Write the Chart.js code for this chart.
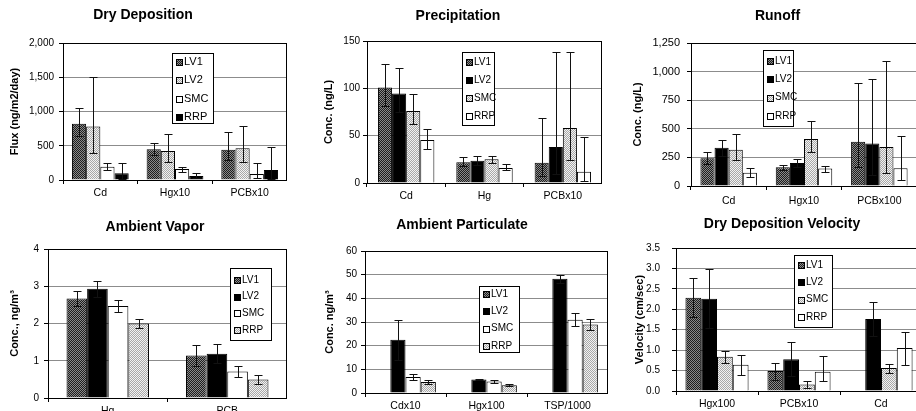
<!DOCTYPE html>
<html><head><meta charset="utf-8">
<script src="https://cdn.jsdelivr.net/npm/chart.js@4.4.0/dist/chart.umd.min.js"></script>
<style>
html,body{margin:0;padding:0;background:#fff;}
#wrap{position:relative;width:916px;height:411px;overflow:hidden;background:#fff;}
canvas{position:absolute;}
</style></head><body><div id="wrap"></div>
<script>
// ---------------- DATA ----------------
const seriesNames = ['LV1', 'LV2', 'SMC', 'RRP'];

// Dry Deposition (ng/m2/day)
const ddCats = ['Cd', 'Hgx10', 'PCBx10'];
const ddLV1 = [820, 450, 440], ddLV1Lo = [645, 365, 295], ddLV1Hi = [1050, 540, 705];
const ddLV2 = [780, 425, 465], ddLV2Lo = [400, 268, 268], ddLV2Hi = [1500, 668, 790];
const ddSMC = [195, 160, 88],  ddSMCLo = [140, 122, 24],  ddSMCHi = [245, 195, 255];
const ddRRP = [98, 60, 146],   ddRRPLo = [20, 24, 20],    ddRRPHi = [255, 107, 488];

// Precipitation (ng/L)
const prCats = ['Cd', 'Hg', 'PCBx10'];
const prLV1 = [101, 22, 21.5], prLV1Lo = [81, 17.5, 7.7], prLV1Hi = [126, 27, 69];
const prLV2 = [94.6, 23.5, 38], prLV2Lo = [75, 18.6, 10], prLV2Hi = [121, 29, 138];
const prSMC = [76, 25, 58],    prSMCLo = [62, 21, 24.5],  prSMCHi = [93.6, 29, 138.5];
const prRRP = [45.5, 15.8, 12], prRRPLo = [36, 13.3, 2.5], prRRPHi = [56.8, 20, 48.7];

// Runoff (ng/L)
const roCats = ['Cd', 'Hgx10', 'PCBx100'];
const roLV1 = [243, 163, 386], roLV1Lo = [190, 140, 167], roLV1Hi = [300, 183, 898];
const roLV2 = [334, 202, 372], roLV2Lo = [260, 168, 100], roLV2Hi = [403, 233, 933];
const roSMC = [316, 410, 342], roSMCLo = [228, 300, 117], roSMCHi = [456, 565, 1096];
const roRRP = [116, 152, 155], roRRPLo = [80, 124, 56],   roRRPHi = [155, 178, 439];

// Ambient Vapor (ng/m3)
const avCats = ['Hg', 'PCB'];
const avLV1 = [2.67, 1.14], avLV1Lo = [2.48, 0.87], avLV1Hi = [2.86, 1.42];
const avLV2 = [2.93, 1.19], avLV2Lo = [2.72, 0.93], avLV2Hi = [3.14, 1.46];
const avSMC = [2.47, 0.71], avSMCLo = [2.30, 0.56], avSMCHi = [2.63, 0.87];
const avRRP = [2.00, 0.50], avRRPLo = [1.88, 0.37], avRRPHi = [2.11, 0.61];

// Ambient Particulate (ng/m3)
const apCats = ['Cdx10', 'Hgx100', 'TSP/1000'];
const apLV1 = [null, null, null], apLV1Lo = [null, null, null], apLV1Hi = [null, null, null];
const apLV2 = [22.5, 5.7, 48.3], apLV2Lo = [14, 5.4, 46.5], apLV2Hi = [30.8, 6.0, 50.0];
const apSMC = [6.8, 4.9, 31.0],  apSMCLo = [5.4, 4.4, 28.2], apSMCHi = [8.2, 5.4, 33.8];
const apRRP = [4.6, 3.3, 28.9],  apRRPLo = [3.7, 2.9, 26.5], apRRPHi = [5.6, 3.7, 31.2];

// Dry Deposition Velocity (cm/sec)
const dvCats = ['Hgx100', 'PCBx10', 'Cd'];
const dvLV1 = [2.28, 0.49, null], dvLV1Lo = [1.82, 0.27, null], dvLV1Hi = [2.76, 0.69, null];
const dvLV2 = [2.26, 0.78, 1.76], dvLV2Lo = [1.55, 0.37, 1.35], dvLV2Hi = [2.98, 1.19, 2.17];
const dvSMC = [0.84, 0.16, 0.56], dvSMCLo = [0.68, 0.08, 0.45], dvSMCHi = [0.98, 0.25, 0.66];
const dvRRP = [0.64, 0.47, 1.05], dvRRPLo = [0.40, 0.25, 0.64], dvRRPHi = [0.87, 0.86, 1.44];

// ---------------- FILLS ----------------
function makePattern(c1, c2) {
  const p = document.createElement('canvas');
  p.width = 2; p.height = 2;
  const g = p.getContext('2d');
  g.fillStyle = c1; g.fillRect(0, 0, 2, 2);
  g.fillStyle = c2; g.fillRect(0, 0, 1, 1); g.fillRect(1, 1, 1, 1);
  return g.createPattern(p, 'repeat');
}
const FILL = {
  dark: makePattern('#8a8a8a', '#1e1e1e'),
  light: makePattern('#f2f2f2', '#a8a8a8'),
  white: '#ffffff',
  black: '#000000'
};

// ---------------- PLUGINS ----------------
const framePlugin = {
  id: 'frame',
  afterDatasetsDraw(chart) {
    const a = chart.chartArea, ctx = chart.ctx;
    ctx.save();
    ctx.strokeStyle = '#000'; ctx.lineWidth = 1;
    ctx.strokeRect(Math.round(a.left) + 0.5, Math.round(a.top) + 0.5,
      Math.round(a.right - a.left) - 1, Math.round(a.bottom - a.top));
    ctx.restore();
  }
};
const errorBarPlugin = {
  id: 'errorBars',
  afterDatasetsDraw(chart) {
    const ctx = chart.ctx, y = chart.scales.y;
    ctx.save();
    ctx.strokeStyle = '#111'; ctx.lineWidth = 1;
    chart.data.datasets.forEach((ds, i) => {
      const meta = chart.getDatasetMeta(i);
      meta.data.forEach((bar, j) => {
        if (ds.data[j] == null || ds.errLow[j] == null) return;
        const x = Math.round(bar.x) + 0.5;
        const yl = Math.round(y.getPixelForValue(ds.errLow[j])) + 0.5;
        const yh = Math.round(y.getPixelForValue(ds.errHigh[j])) + 0.5;
        const c = 4;
        ctx.beginPath();
        ctx.moveTo(x, yl); ctx.lineTo(x, yh);
        ctx.moveTo(x - c, yh); ctx.lineTo(x + c, yh);
        ctx.moveTo(x - c, yl); ctx.lineTo(x + c, yl);
        ctx.stroke();
      });
    });
    ctx.restore();
  }
};
const boxLegendPlugin = {
  id: 'boxLegend',
  afterDraw(chart, args, o) {
    if (!o || !o.box) return;
    const ctx = chart.ctx;
    const bx = o.box[0] - o.ox, by = o.box[1] - o.oy, bw = o.box[2], bh = o.box[3];
    ctx.save();
    ctx.fillStyle = '#fff';
    ctx.fillRect(bx, by, bw, bh);
    ctx.strokeStyle = '#000'; ctx.lineWidth = 1;
    ctx.strokeRect(Math.round(bx) + 0.5, Math.round(by) + 0.5, Math.round(bw), Math.round(bh));
    ctx.font = o.fontSize + 'px "Liberation Sans", Arial, sans-serif';
    ctx.textBaseline = 'middle';
    chart.data.datasets.forEach((ds, i) => {
      const ry = o.row0 - o.oy + i * o.step;
      const mx = Math.round(bx + 4) + 0.5, my = Math.round(ry - 3) + 0.5;
      ctx.fillStyle = ds.backgroundColor;
      ctx.fillRect(mx, my, 6, 6);
      ctx.strokeStyle = '#000';
      ctx.strokeRect(mx, my, 6, 6);
      ctx.fillStyle = '#000';
      ctx.fillText(ds.label, bx + 12, ry);
    });
    ctx.restore();
  }
};

// ---------------- PANELS ----------------
const FONT = '"Liberation Sans", Arial, sans-serif';
const panels = [
  { title: 'Dry Deposition', yTitle: 'Flux (ng/m2/day)', cats: ddCats,
    vals: [ddLV1, ddLV2, ddSMC, ddRRP], lo: [ddLV1Lo, ddLV2Lo, ddSMCLo, ddRRPLo], hi: [ddLV1Hi, ddLV2Hi, ddSMCHi, ddRRPHi],
    fills: ['dark', 'light', 'white', 'black'], yMax: 2000, yStep: 500, fmt: v => v.toLocaleString('en-US'),
    g: { cl: -26, ct: 0, cw: 313, ch: 210, padL: 25, yW: 64, tPt: 6.6, tPb: 19.6, ytPad: 9.4, yTickPad: 5, yTickFont: 10, xTickPad: 3, cat: 0.76 },
    legend: { box: [172, 53, 41, 70], row0: 62, step: 18.3, fontSize: 11 } },
  { title: 'Precipitation', yTitle: 'Conc. (ng/L)', cats: prCats,
    vals: [prLV1, prLV2, prSMC, prRRP], lo: [prLV1Lo, prLV2Lo, prSMCLo, prRRPLo], hi: [prLV1Hi, prLV2Hi, prSMCHi, prRRPHi],
    fills: ['dark', 'black', 'light', 'white'], yMax: 150, yStep: 50, fmt: v => String(v),
    g: { cl: 289, ct: 0, cw: 313, ch: 213, padL: 25, yW: 53, tPt: 7.6, tPb: 16.6, ytPad: 8.4, yTickPad: 3, yTickFont: 10, xTickPad: 3, cat: 0.72 },
    legend: { box: [462, 52, 32, 73], row0: 62, step: 18, fontSize: 10 } },
  { title: 'Runoff', yTitle: 'Conc. (ng/L)', cats: roCats,
    vals: [roLV1, roLV2, roSMC, roRRP], lo: [roLV1Lo, roLV2Lo, roSMCLo, roRRPLo], hi: [roLV1Hi, roLV2Hi, roSMCHi, roRRPHi],
    fills: ['dark', 'black', 'light', 'white'], yMax: 1250, yStep: 250, fmt: v => v.toLocaleString('en-US'),
    g: { cl: 613, ct: 0, cw: 304, ch: 216, padL: 25, yW: 53, tPt: 7.6, tPb: 18.6, ytPad: -6.6, yTickPad: 7, yTickFont: 11, xTickPad: 5, cat: 0.75 },
    legend: { box: [763, 50, 30, 76], row0: 61, step: 18.3, fontSize: 10 } },
  { title: 'Ambient Vapor', yTitle: 'Conc., ng/m³', cats: avCats,
    vals: [avLV1, avLV2, avSMC, avRRP], lo: [avLV1Lo, avLV2Lo, avSMCLo, avRRPLo], hi: [avLV1Hi, avLV2Hi, avSMCHi, avRRPHi],
    fills: ['dark', 'black', 'white', 'light'], yMax: 4, yStep: 1, fmt: v => String(v),
    g: { cl: -2, ct: 205, cw: 289, ch: 223, padL: 25, yW: 25, tPt: 13.6, tPb: 13.6, ytPad: -14.6, yTickPad: 5, yTickFont: 10, xTickPad: 3, cat: 0.69 },
    legend: { box: [230, 268, 41, 72], row0: 280, step: 16.7, fontSize: 10 } },
  { title: 'Ambient Particulate', yTitle: 'Conc. ng/m³', cats: apCats,
    vals: [apLV1, apLV2, apSMC, apRRP], lo: [apLV1Lo, apLV2Lo, apSMCLo, apRRPLo], hi: [apLV1Hi, apLV2Hi, apSMCHi, apRRPHi],
    fills: ['dark', 'black', 'white', 'light'], yMax: 60, yStep: 10, fmt: v => String(v),
    g: { cl: 291, ct: 205, cw: 317, ch: 218, padL: 25, yW: 49, tPt: 11.6, tPb: 17.6, ytPad: 7.4, yTickPad: 4, yTickFont: 10, xTickPad: 3, cat: 0.75 },
    legend: { box: [479, 286, 40, 66], row0: 294, step: 17.3, fontSize: 10 } },
  { title: 'Dry Deposition Velocity', yTitle: 'Velocity (cm/sec)', cats: dvCats,
    vals: [dvLV1, dvLV2, dvSMC, dvRRP], lo: [dvLV1Lo, dvLV2Lo, dvSMCLo, dvRRPLo], hi: [dvLV1Hi, dvLV2Hi, dvSMCHi, dvRRPHi],
    fills: ['dark', 'black', 'light', 'white'], yMax: 3.5, yStep: 0.5, fmt: v => v.toFixed(1),
    g: { cl: 617, ct: 205, cw: 305, ch: 216, padL: 25, yW: 34, tPt: 10.6, tPb: 15.6, ytPad: -8.6, yTickPad: 12, yTickFont: 10, xTickPad: 3, cat: 0.77 },
    legend: { box: [794, 255, 38, 72], row0: 265, step: 17.3, fontSize: 10 } }
];

const wrap = document.getElementById('wrap');
panels.forEach(p => {
  const g = p.g;
  const cv = document.createElement('canvas');
  cv.width = g.cw; cv.height = g.ch;
  cv.style.left = g.cl + 'px'; cv.style.top = g.ct + 'px';
  cv.style.width = g.cw + 'px'; cv.style.height = g.ch + 'px';
  wrap.appendChild(cv);
  const datasets = seriesNames.map((name, i) => ({
    label: name,
    data: p.vals[i],
    errLow: p.lo[i],
    errHigh: p.hi[i],
    backgroundColor: FILL[p.fills[i]],
    borderColor: '#000',
    borderWidth: 1,
    barPercentage: 1,
    categoryPercentage: g.cat
  }));
  new Chart(cv, {
    type: 'bar',
    data: { labels: p.cats, datasets },
    plugins: [framePlugin, errorBarPlugin, boxLegendPlugin],
    options: {
      responsive: false, animation: false, devicePixelRatio: 1,
      layout: { padding: { left: g.padL, right: 0, top: 0, bottom: 0 } },
      plugins: {
        legend: { display: false },
        tooltip: { enabled: false },
        title: { display: true, text: p.title, color: '#000',
          font: { family: FONT, size: 14, weight: 'bold' },
          padding: { top: g.tPt, bottom: g.tPb } },
        boxLegend: Object.assign({ ox: g.cl, oy: g.ct }, p.legend)
      },
      scales: {
        x: {
          grid: { display: true, drawOnChartArea: false, drawTicks: true, tickLength: 4, color: '#000', tickColor: '#000', offset: true },
          border: { display: true, color: '#000' },
          ticks: { color: '#000', font: { family: FONT, size: 10.5 }, padding: g.xTickPad, autoSkip: false, maxRotation: 0 },
          afterFit: s => { s.height = 30; }
        },
        y: {
          min: 0, max: p.yMax,
          grid: { color: '#8c8c8c', tickColor: '#000', tickLength: 4 },
          border: { display: true, color: '#000' },
          ticks: { stepSize: p.yStep, color: '#000', font: { family: FONT, size: g.yTickFont }, padding: g.yTickPad, callback: v => p.fmt(v) },
          title: { display: true, text: p.yTitle, color: '#000', font: { family: FONT, size: 11, weight: 'bold' }, padding: { top: g.ytPad, bottom: 0 } },
          afterFit: s => { s.width = g.yW; }
        }
      }
    }
  });
});
</script>
</body></html>
